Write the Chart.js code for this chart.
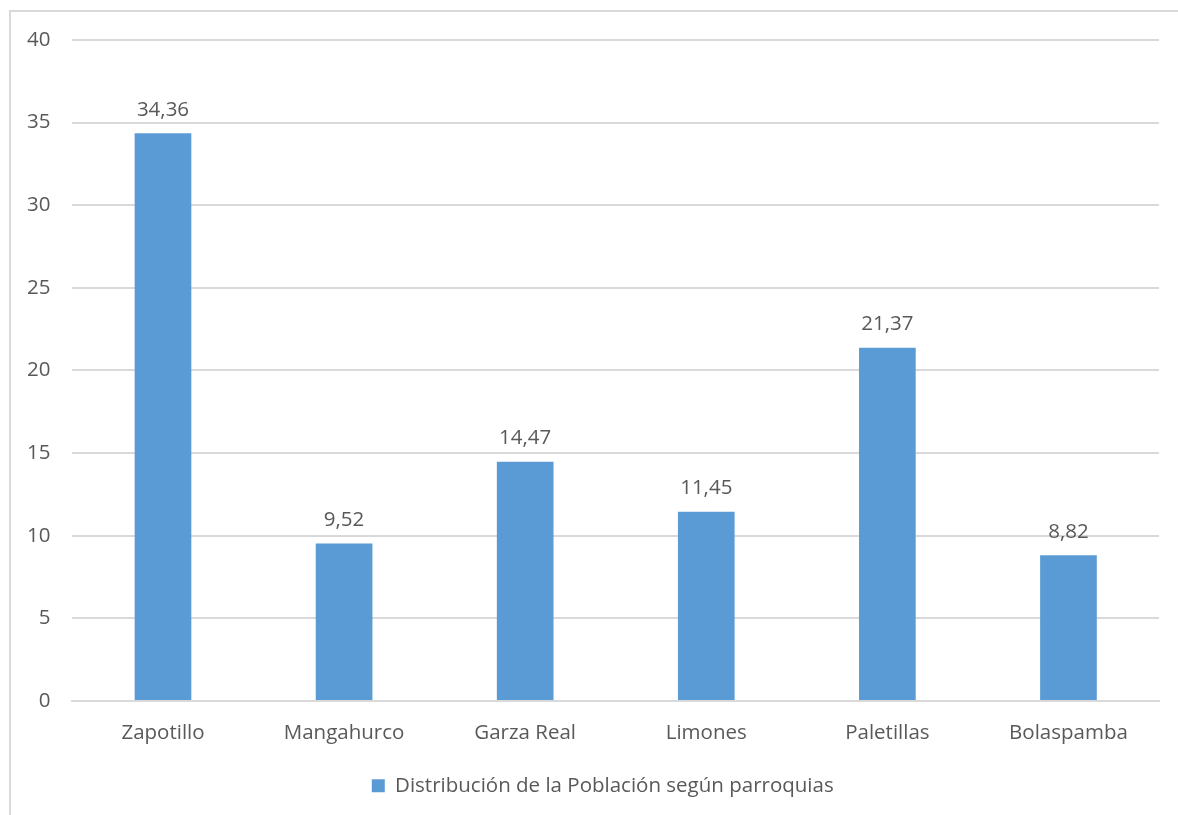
<!DOCTYPE html>
<html>
<head>
<meta charset="utf-8">
<script src="https://cdn.jsdelivr.net/npm/chart.js@4.4.1/dist/chart.umd.min.js"></script>
<style>
  html, body { margin: 0; padding: 0; background: #fff; }
  #wrap { position: relative; width: 1178px; height: 815px; }
  #frame { position: absolute; left: 9px; top: 10px; right: 0; bottom: 0;
           border-left: 2px solid #d9d9d9; border-top: 2px solid #d9d9d9; }
  canvas { position: absolute; left: 0; top: 0; }
</style>
</head>
<body>
<div id="wrap">
  <div id="frame"></div>
  <canvas id="myChart"></canvas>
</div>
<script>
let parroquias = ["Zapotillo", "Mangahurco", "Garza Real", "Limones", "Paletillas", "Bolaspamba"];
let porcentaje = [34.36, 9.52, 14.47, 11.45, 21.37, 8.82];
let serieNombre = "Distribución de la Población según parroquias";
let yTicks = [0, 5, 10, 15, 20, 25, 30, 35, 40];

const textColor = "#595959";
const fontFam = "'Open Sans', sans-serif";
const fontSize = 20.5;

// etiquetas de datos encima de cada barra
const labelsPlugin = {
  id: "valueLabels",
  afterDatasetsDraw(chart) {
    const ctx = chart.ctx;
    ctx.save();
    ctx.font = fontSize + "px " + fontFam;
    ctx.fillStyle = textColor;
    ctx.textAlign = "center";
    ctx.textBaseline = "bottom";
    chart.getDatasetMeta(0).data.forEach((bar, i) => {
      const txt = porcentaje[i].toFixed(2).replace(".", ",");
      ctx.fillText(txt, bar.x, bar.y - 13);
    });
    ctx.restore();
  },
};

// centrar la leyenda respecto al area del grafico (como en Excel)
const legendShift = {
  id: "legendShift",
  afterLayout(chart) {
    const lg = chart.legend;
    if (!lg) return;
    const ca = chart.chartArea;
    const d = (ca.left + ca.right) / 2 - (lg.left + lg.right) / 2 - 13;
    lg.left += d;
    lg.right += d;
  },
};

document.addEventListener("DOMContentLoaded", function() {
  const data = {
    labels: parroquias,
    datasets: [
      {
        label: serieNombre,
        data: porcentaje,
        backgroundColor: "#5b9bd5",
        borderWidth: 0,
        barPercentage: 0.313,
        categoryPercentage: 1,
      },
    ],
  };

  const config = {
    type: "bar",
    data: data,
    options: {
      responsive: true,
      maintainAspectRatio: false,
      animation: false,
      layout: {
        padding: { left: 5, right: 19, top: 40, bottom: 9 },
      },
      scales: {
        x: {
          grid: { display: false },
          border: { color: "#d9d9d9", width: 2 },
          ticks: {
            color: textColor,
            font: { family: fontFam, size: fontSize },
            padding: 12,
          },
        },
        y: {
          min: 0,
          max: 40,
          afterBuildTicks: (axis) => {
            axis.ticks = yTicks.map((v) => ({ value: v }));
          },
          grid: { color: "#d9d9d9", lineWidth: 2, drawTicks: false },
          border: { display: false },
          ticks: {
            color: textColor,
            font: { family: fontFam, size: fontSize },
            padding: 22,
          },
        },
      },
      plugins: {
        legend: {
          position: "bottom",
          labels: {
            color: textColor,
            font: { family: fontFam, size: fontSize },
            boxWidth: 13,
            boxHeight: 13,
            padding: 18,
          },
        },
        tooltip: { enabled: false },
      },
    },
    plugins: [labelsPlugin, legendShift],
  };
  const myChart = new Chart(document.getElementById("myChart"), config);
});
</script>
</body>
</html>
